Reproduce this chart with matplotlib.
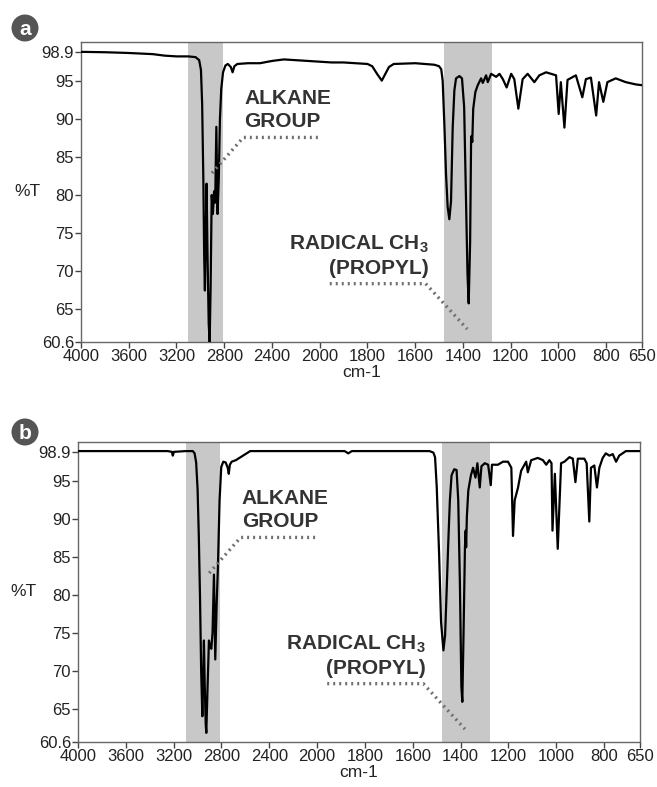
import numpy as np
import matplotlib
matplotlib.use("Agg")
import matplotlib.pyplot as plt
from matplotlib.patches import Circle

plt.rcParams['font.family'] = ['Liberation Sans', 'DejaVu Sans']

# ---- data (wavenumber cm-1, %T) ----
WN_A = [4000, 3800, 3600, 3400, 3300, 3200, 3100, 3040, 3010, 2995, 2985, 2975, 2968, 2962,
        2955, 2948, 2940, 2930, 2922, 2914, 2905, 2895, 2885, 2876, 2866, 2856, 2846, 2836,
        2825, 2810, 2790, 2770, 2745, 2730, 2715, 2690, 2600, 2500, 2400, 2300, 2200, 2100,
        2000, 1950, 1900, 1850, 1800, 1780, 1760, 1740, 1725, 1710, 1690, 1600, 1520, 1500,
        1491, 1485, 1478, 1471, 1464, 1457, 1450, 1443, 1436, 1429, 1415, 1404, 1395, 1388,
        1381, 1376, 1370, 1366, 1364, 1361, 1357, 1348, 1338, 1324, 1317, 1303, 1296, 1282,
        1261, 1247, 1233, 1217, 1198, 1185, 1168, 1150, 1129, 1101, 1080, 1052, 1010, 999,
        990, 975, 962, 927, 900, 885, 864, 842, 830, 812, 795, 760, 718, 676, 650]
T_A = [98.9, 98.85, 98.75, 98.6, 98.4, 98.3, 98.3, 98.2, 97.8, 96.5, 92.0, 82.0, 72.0, 67.4,
       75.0, 81.5, 72.0, 63.0, 60.6, 68.0, 80.0, 77.5, 80.5, 79.0, 89.0, 77.5, 82.0, 90.0,
       94.0, 96.2, 97.1, 97.3, 96.9, 96.2, 97.0, 97.3, 97.4, 97.4, 97.7, 97.9, 97.8, 97.7,
       97.6, 97.5, 97.5, 97.4, 97.3, 97.0, 96.0, 95.1, 96.0, 96.9, 97.3, 97.4, 97.2, 97.0,
       96.6, 95.1, 89.4, 82.8, 78.4, 76.8, 79.2, 88.9, 93.8, 95.4, 95.7, 95.4, 91.6, 80.6,
       69.6, 65.7, 73.8, 87.0, 87.8, 87.0, 91.4, 93.6, 94.5, 95.4, 94.8, 95.8, 94.9, 96.0,
       95.6, 96.0, 95.3, 94.2, 96.0, 95.3, 91.4, 95.3, 96.0, 94.9, 95.8, 96.2, 95.8, 90.7,
       94.9, 88.9, 95.2, 95.8, 92.9, 95.3, 95.5, 90.5, 94.9, 92.3, 94.9, 95.4, 94.9, 94.6, 94.5]

WN_B = [4000, 3600, 3250, 3215, 3207, 3198, 3100, 3040, 3025, 3012, 3000, 2990, 2980, 2970,
        2960, 2952, 2947, 2940, 2932, 2927, 2918, 2905, 2895, 2885, 2875, 2863, 2852, 2840,
        2830, 2816, 2802, 2785, 2765, 2748, 2739, 2730, 2715, 2680, 2640, 2600, 2560, 2400,
        2000, 1885, 1870, 1855, 1700, 1530, 1514, 1507, 1500, 1490, 1482, 1472, 1465, 1458,
        1452, 1445, 1438, 1427, 1417, 1410, 1403, 1397, 1393, 1388, 1382, 1379, 1377, 1374,
        1368, 1357, 1348, 1338, 1330, 1320, 1313, 1299, 1285, 1274, 1269, 1244, 1223, 1202,
        1188, 1181, 1174, 1160, 1147, 1126, 1119, 1105, 1077, 1056, 1042, 1029, 1020, 1016,
        1006, 994, 980, 966, 945, 931, 920, 910, 883, 873, 862, 855, 841, 830, 820, 806, 793,
        778, 764, 750, 737, 709, 660, 650]
T_B = [99.0, 99.0, 99.0, 98.9, 98.4, 98.9, 99.0, 99.0, 98.7, 97.5, 94.0, 88.0, 80.0, 70.0,
       64.0, 70.0, 74.0, 68.0, 63.0, 61.8, 67.0, 74.0, 73.2, 72.9, 75.0, 82.7, 71.5, 79.0,
       83.6, 92.5, 96.9, 97.6, 97.5, 96.8, 96.0, 97.2, 97.6, 97.8, 98.2, 98.6, 99.0, 99.0,
       99.0, 99.0, 98.7, 99.0, 99.0, 99.0, 98.8, 98.2, 94.3, 85.4, 76.5, 72.7, 74.7, 81.0,
       86.7, 92.5, 95.8, 96.6, 96.5, 92.5, 81.4, 68.0, 65.9, 74.7, 86.3, 88.5, 86.3, 90.3,
       93.8, 95.8, 96.8, 95.5, 97.4, 94.2, 97.0, 97.4, 97.2, 94.5, 97.2, 97.2, 97.6, 97.6,
       96.8, 87.8, 92.5, 94.2, 96.4, 97.6, 96.2, 97.8, 98.1, 97.8, 97.2, 97.8, 97.4, 88.5,
       96.0, 86.1, 97.4, 97.6, 98.2, 98.0, 94.9, 98.0, 98.0, 97.4, 89.7, 96.8, 97.1, 94.2,
       96.8, 98.1, 98.7, 98.4, 98.6, 97.6, 98.4, 99.0, 99.0, 99.0]

XTICKS = [4000, 3600, 3200, 2800, 2400, 2000, 1800, 1600, 1400, 1200, 1000, 800, 650]
YTICKS = [60.6, 65, 70, 75, 80, 85, 90, 95, 98.9]
YTICKLABELS = ["60.6", "65", "70", "75", "80", "85", "90", "95", "98.9"]
BANDS = [(3100, 2812), (1480, 1277)]


def fwd(w):
    # IR-style axis: 2x compressed above 2000 cm-1
    w = np.asarray(w, dtype=float)
    return np.where(w > 2000, 2000 + (w - 2000) / 2, w)


def inv(u):
    u = np.asarray(u, dtype=float)
    return np.where(u > 2000, 2000 + (u - 2000) * 2, u)


fig = plt.figure(figsize=(6.57, 7.87), dpi=100)
ax_a = fig.add_axes([81 / 657, 1 - 342 / 787, 561 / 657, 300 / 787])
ax_b = fig.add_axes([78 / 657, 1 - 742 / 787, 562 / 657, 300 / 787])

TXT = "#333333"
DOT = "#707070"
for ax, wn, t in ((ax_a, WN_A, T_A), (ax_b, WN_B, T_B)):
    ax.set_xscale("function", functions=(fwd, inv))
    for lo, hi in BANDS:
        ax.axvspan(lo, hi, color="#c8c8c8", lw=0, zorder=0)
    ax.plot(wn, t, color="black", lw=1.6, zorder=3)
    ax.set_xlim(4000, 650)
    ax.set_ylim(60.6, 100.2)
    ax.set_xticks(XTICKS)
    ax.set_xticklabels([str(v) for v in XTICKS])
    ax.set_yticks(YTICKS)
    ax.set_yticklabels(YTICKLABELS)
    ax.minorticks_off()
    ax.tick_params(length=4, width=1, color="#444444", labelsize=12, labelcolor="#222222", pad=1)
    for s in ax.spines.values():
        s.set_color("#666666")
        s.set_linewidth(1)
    ax.set_xlabel("cm-1", fontsize=12.5, color="#222222", labelpad=1)
    ax.set_ylabel("%T", fontsize=12.5, color="#222222", rotation=0, ha="right", va="center")
    ax.yaxis.set_label_coords(-0.073, 0.5)

    # annotations
    ax.text(2630, 94.0, "ALKANE\nGROUP", fontsize=15, fontweight="bold", color=TXT,
            ha="left", va="top", linespacing=1.3)
    ax.plot([2903, 2640, 2000], [82.9, 87.6, 87.6], ls=(0, (0.6, 1.2)), color=DOT, lw=2.4, zorder=4)
    ax.text(1545, 69.0, "RADICAL CH$_{\\mathregular{3}}$\n(PROPYL)", fontsize=15, fontweight="bold",
            color=TXT, ha="right", va="bottom", linespacing=1.3, multialignment="right")
    ax.plot([1958, 1556, 1382], [68.3, 68.3, 62.3], ls=(0, (0.6, 1.2)), color=DOT, lw=2.4, zorder=4)

for (cx, cy), lab in (((0.25, 7.59), "a"), ((0.25, 7.57 - 4.02), "b")):
    fig.add_artist(Circle((cx, cy), 0.135, transform=fig.dpi_scale_trans, color="#555555", lw=0))
    fig.text(cx / 6.57, cy / 7.87 - 0.002, lab, color="white", fontsize=15, fontweight="bold",
             ha="center", va="center")

fig.savefig("out.png", dpi=100)
